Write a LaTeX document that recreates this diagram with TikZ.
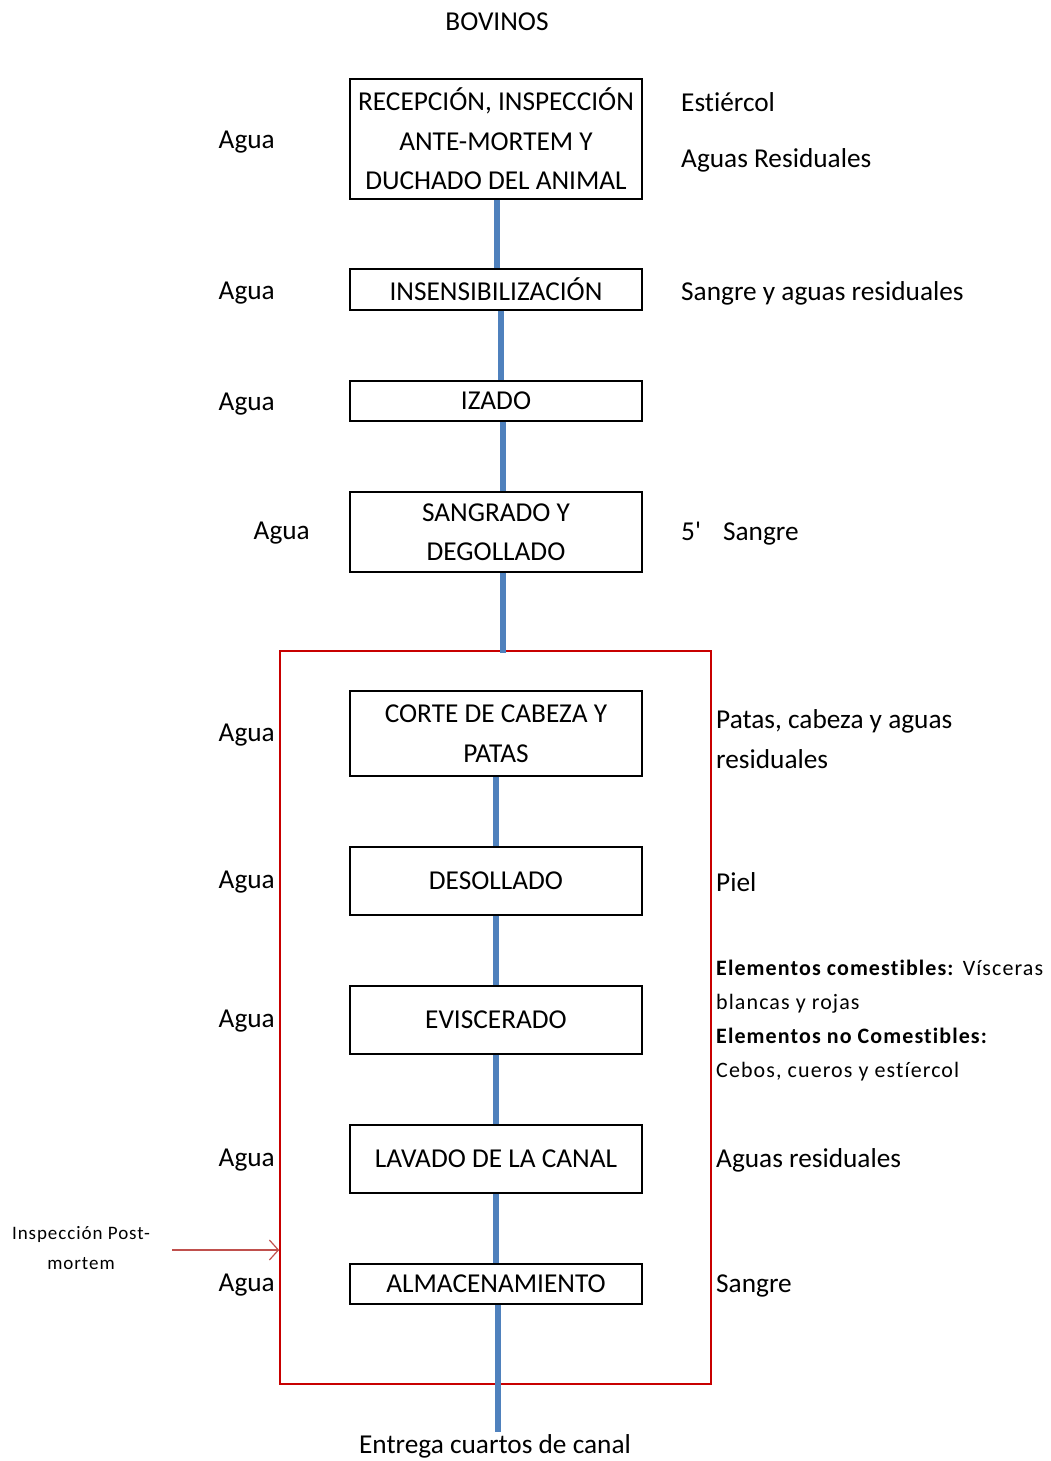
\documentclass[tikz,border=0pt]{standalone}
\usepackage{fontspec}
\setmainfont[Ligatures={CommonOff,TeXOff}]{Carlito}
\newfontfamily\espaciada[LetterSpace=5, Ligatures=CommonOff]{Carlito}
\usetikzlibrary{arrows.meta}
\definecolor{azul}{RGB}{79,129,189}
\definecolor{rojo}{RGB}{200,0,0}
\definecolor{rojoclaro}{RGB}{192,80,77}

\begin{document}
\begin{tikzpicture}[x=1pt, y=-1pt,
		etapa/.style={draw, line width=1.6pt, minimum width=292pt, align=center, inner sep=0pt,
			font=\fontsize{27.3}{39.5}\selectfont},
		texto/.style={inner sep=0pt, yshift=-1.5pt, font=\fontsize{27.3}{39.5}\selectfont},
		chico/.style={inner sep=0pt, align=left, font=\espaciada\fontsize{22}{34}\selectfont},
		flujo/.style={azul, line width=6pt}]
				\useasboundingbox (0,0) rectangle (1050,1461);

				\node[texto] (titulo) at (497,20) {BOVINOS};

				\node[etapa, minimum height=120pt] (recepcion) at (496,139)
					{RECEPCIÓN, INSPECCIÓN\\ANTE-MORTEM Y\\DUCHADO DEL ANIMAL};
				\node[etapa, minimum height=41pt] (insens) at (496,289.5) {INSENSIBILIZACIÓN};
				\node[etapa, minimum height=40pt] (izado) at (496,401) {IZADO};
				\node[etapa, minimum height=80pt] (sangrado) at (496,532) {SANGRADO Y\\DEGOLLADO};

				\node[draw=rojo, line width=1.6pt, minimum width=431pt, minimum height=733pt, inner sep=0pt]
					(zona) at (495.5,1017.5) {};

				\node[etapa, minimum height=85pt] (corte) at (496,733.5) {CORTE DE CABEZA Y\\PATAS};
				\node[etapa, minimum height=68pt] (desollado) at (496,881) {DESOLLADO};
				\node[etapa, minimum height=68pt] (eviscerado) at (496,1020) {EVISCERADO};
				\node[etapa, minimum height=68pt] (lavado) at (496,1159) {LAVADO DE LA CANAL};
				\node[etapa, minimum height=40pt] (almacen) at (496,1284) {ALMACENAMIENTO};

				\coordinate (fin) at (498,1432);
				\node[texto] (entrega) at (495,1445) {Entrega cuartos de canal};

				\draw[flujo] ([xshift=1pt]recepcion.south) -- ([xshift=1pt]insens.north);
				\draw[flujo] ([xshift=5pt]insens.south) -- ([xshift=5pt]izado.north);
				\draw[flujo] ([xshift=7pt]izado.south) -- ([xshift=7pt]sangrado.north);
				\draw[flujo] ([xshift=7pt]sangrado.south) -- ([xshift=7pt,yshift=-3pt]sangrado.south |- zona.north);
				\draw[flujo] (corte.south) -- (desollado.north);
				\draw[flujo] (desollado.south) -- (eviscerado.north);
				\draw[flujo] (eviscerado.south) -- (eviscerado.south |- lavado.north);
				\draw[flujo] (lavado.south) -- (almacen.north);
				\draw[flujo] ([xshift=2pt]almacen.south) -- (fin);

				\node[texto, anchor=east] (agua1) at (275,141) {Agua};
				\node[texto, anchor=east] (agua2) at (275,292) {Agua};
				\node[texto, anchor=east] (agua3) at (275,403) {Agua};
				\node[texto, anchor=east] (agua4) at (310,532) {Agua};
				\node[texto, anchor=east] (agua5) at (275,734) {Agua};
				\node[texto, anchor=east] (agua6) at (275,881) {Agua};
				\node[texto, anchor=east] (agua7) at (275,1020) {Agua};
				\node[texto, anchor=east] (agua8) at (275,1159) {Agua};
				\node[texto, anchor=east] (agua9) at (275,1284) {Agua};

				\node[texto, anchor=west] (estiercol) at (681,101) {Estiércol};
				\node[texto, anchor=west] (residuales1) at (681,159) {Aguas Residuales};
				\node[texto, anchor=west] (sangre1) at (681,292) {Sangre y aguas residuales};
				\node[texto, anchor=west] (sangre2) at (681,532) {5'\hspace{22pt}Sangre};
				\node[texto, anchor=west, align=left] (patas) at (716,737.5) {Patas, cabeza y aguas\\residuales};
				\node[texto, anchor=west] (piel) at (716,881) {Piel};
				\node[chico, anchor=west] (elementos) at (716,1021)
					{\textbf{Elementos comestibles:} Vísceras\\blancas y rojas\\
					\textbf{Elementos no Comestibles:}\\Cebos, cueros y estíercol};
				\node[texto, anchor=west] (residuales2) at (716,1159) {Aguas residuales};
				\node[texto, anchor=west] (sangre3) at (716,1284) {Sangre};

				\node[chico, align=center, font=\espaciada\fontsize{19}{30}\selectfont] (postmortem) at (81,1248)
					{Inspección Post-\\mortem};
				\coordinate (origen) at (172,1250);
				\draw[rojoclaro, line width=1.2pt, -{Straight Barb[length=9pt, width=20pt]}]
					(origen) -- (origen -| zona.west);
			\end{tikzpicture}
\end{document}
